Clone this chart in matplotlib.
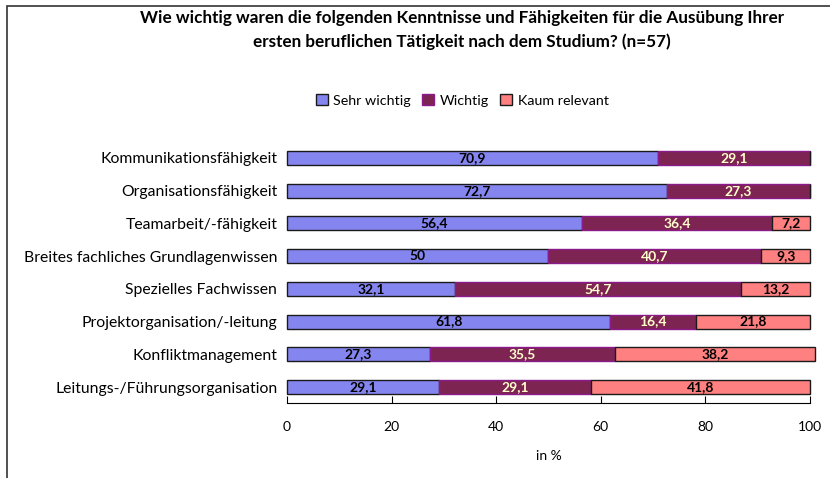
import matplotlib.pyplot as plt
import numpy as np
from matplotlib.patches import Rectangle

plt.rcParams['font.family'] = ['Lato', 'DejaVu Sans']

# data
categories = ['Kommunikationsfähigkeit', 'Organisationsfähigkeit', 'Teamarbeit/-fähigkeit',
              'Breites fachliches Grundlagenwissen', 'Spezielles Fachwissen',
              'Projektorganisation/-leitung', 'Konfliktmanagement',
              'Leitungs-/Führungsorganisation']
sehr_wichtig = [70.9, 72.7, 56.4, 50, 32.1, 61.8, 27.3, 29.1]
wichtig = [29.1, 27.3, 36.4, 40.7, 54.7, 16.4, 35.5, 29.1]
kaum_relevant = [0, 0, 7.2, 9.3, 13.2, 21.8, 38.2, 41.8]
series_names = ['Sehr wichtig', 'Wichtig', 'Kaum relevant']
xticks = [0, 20, 40, 60, 80, 100]

fig = plt.figure(figsize=(8.3, 4.78), dpi=100)
ax = fig.add_axes([0.3458, 0.156, 0.630, 0.548])

y = np.arange(len(categories))
series = [sehr_wichtig, wichtig, kaum_relevant]
faces = ['#8585F0', '#7E2452', '#FF8080']
edges = ['#1a1a1a', '#8B1A8B', '#1a1a1a']
txtcol = ['black', '#FFFFCC', 'black']

left = np.zeros(len(categories))
for vals, name, fc, ec, tc in zip(series, series_names, faces, edges, txtcol):
    vals = np.array(vals, dtype=float)
    ax.barh(y, vals, left=left, height=0.43, color=fc, edgecolor=ec,
            linewidth=1.0, label=name, clip_on=False)
    for yi, l, v in zip(y, left, vals):
        if v > 0:
            s = ('%g' % v).replace('.', ',')
            ax.text(l + v / 2, yi, s, ha='center', va='center', fontsize=10,
                    fontweight='bold', color=tc)
    left += vals

ax.set_ylim(len(categories) - 0.5, -0.5)
ax.set_xlim(0, 100)
ax.set_yticks(y)
ax.set_yticklabels(categories, fontsize=11.3)
ax.set_xticks(xticks)
ax.set_xticklabels([str(t) for t in xticks], fontsize=10)
ax.tick_params(axis='y', length=0, pad=7)
ax.tick_params(axis='x', direction='in', length=5, pad=13)
for s in ['top', 'right', 'left']:
    ax.spines[s].set_visible(False)
ax.set_xlabel('in %', fontsize=10, labelpad=12)

fig.text(0.557, 0.937, 'Wie wichtig waren die folgenden Kenntnisse und Fähigkeiten für die Ausübung Ihrer\n'
         'ersten beruflichen Tätigkeit nach dem Studium? (n=57)',
         ha='center', va='center', fontsize=12.3, fontweight='bold', linespacing=1.5)

fig.legend(loc='center', bbox_to_anchor=(0.557, 0.79), ncol=3, frameon=False,
           fontsize=10.3, handlelength=0.8, handleheight=0.8, handletextpad=0.4,
           columnspacing=0.8)

fig.patches.append(Rectangle((7 / 830, -0.1), 1.2, 0.1 + 1 - 6 / 478,
                             transform=fig.transFigure, fill=False,
                             edgecolor='#333333', linewidth=1.2))

plt.savefig('out.png', dpi=100)
